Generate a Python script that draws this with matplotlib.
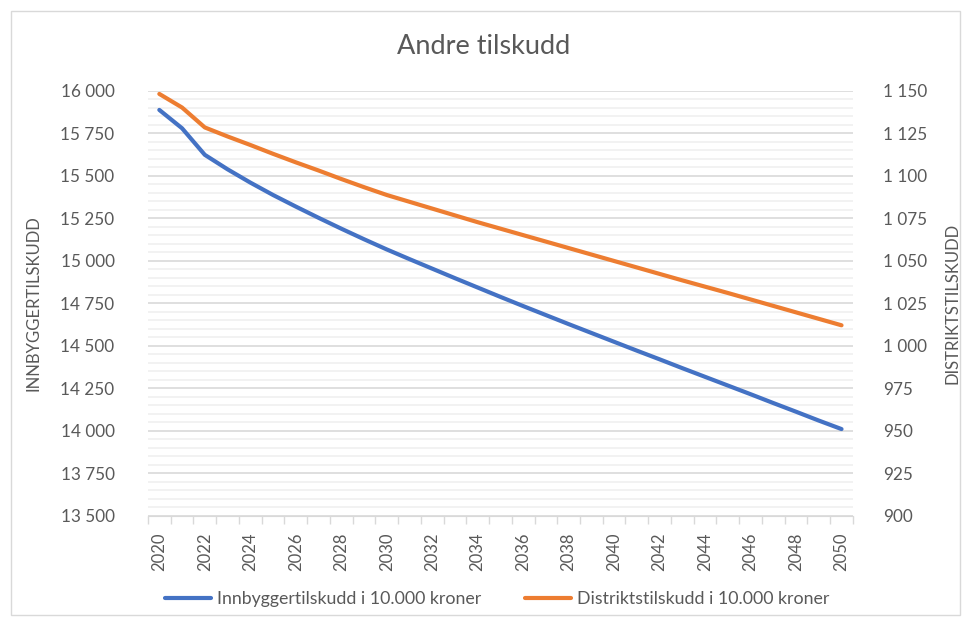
import matplotlib.pyplot as plt
from matplotlib.patches import Rectangle
from matplotlib.ticker import MultipleLocator, FuncFormatter, FixedLocator

plt.rcParams["font.family"] = ["Lato", "DejaVu Sans"]

years = list(range(2020, 2051))
innbygger = [
    15886, 15778, 15622, 15537, 15459, 15386, 15318, 15252, 15188, 15126,
    15066, 15009, 14953, 14897, 14842, 14787, 14733, 14680, 14627, 14575,
    14523, 14471, 14420, 14368, 14317, 14266, 14215, 14163, 14112, 14060,
    14010,
]
distrikt = [
    1148.0, 1140.0, 1128.3, 1123.0, 1118.0, 1112.8, 1107.8, 1103.0, 1098.0, 1093.2,
    1088.6, 1084.6, 1080.6, 1076.6, 1072.6, 1068.8, 1065.0, 1061.2, 1057.4, 1053.6,
    1049.8, 1046.0, 1042.2, 1038.4, 1034.7, 1031.0, 1027.2, 1023.4, 1019.6, 1015.8,
    1012.0,
]
label_blue = "Innbyggertilskudd i 10.000 kroner"
label_orange = "Distriktstilskudd i 10.000 kroner"

TXT = "#595959"
GRID = "#d9d9d9"
MINOR = "#f0f0f0"
BLUE = "#4472C4"
ORANGE = "#ED7D31"


def spaced(v, _pos=None):
    return f"{v:,.0f}".replace(",", " ")


fig = plt.figure(figsize=(9.67, 6.2), dpi=100)
fig.patches.append(Rectangle((0.011, 0.008), 0.982, 0.975, transform=fig.transFigure,
                             fill=False, edgecolor=GRID, linewidth=1))
ax = fig.add_axes([0.153, 0.168, 0.729, 0.686])
ax2 = ax.twinx()

x = list(range(len(years)))
l1, = ax.plot(x, innbygger, color=BLUE, lw=3, solid_capstyle="round", label=label_blue, zorder=3)
l2, = ax2.plot(x, distrikt, color=ORANGE, lw=3, solid_capstyle="round", label=label_orange, zorder=3)

ax.set_xlim(-0.5, len(years) - 0.5)
ax.set_ylim(13500, 16000)
ax2.set_ylim(900, 1150)

ax.yaxis.set_major_locator(MultipleLocator(250))
ax.yaxis.set_minor_locator(MultipleLocator(50))
ax.yaxis.set_major_formatter(FuncFormatter(spaced))
ax2.yaxis.set_major_locator(MultipleLocator(25))
ax2.yaxis.set_major_formatter(FuncFormatter(spaced))

ax.grid(axis="y", which="major", color=GRID, lw=1.2, zorder=0)
ax.grid(axis="y", which="minor", color=MINOR, lw=1.2, zorder=0)
ax.set_axisbelow(True)

# x ticks: labels every second year, tick marks at category boundaries
ax.set_xticks(x[::2])
ax.set_xticklabels([str(y) for y in years[::2]], rotation=90)
ax.xaxis.set_minor_locator(FixedLocator([i - 0.5 for i in range(len(years) + 1)]))
ax.tick_params(axis="x", which="major", length=0, pad=12, labelsize=12, labelcolor=TXT)
ax.tick_params(axis="x", which="minor", length=6, color=GRID, width=1)

ax.tick_params(axis="y", which="both", length=0, pad=24, labelsize=12.3, labelcolor=TXT)
ax2.tick_params(axis="y", which="both", length=0, pad=22, labelsize=12.3, labelcolor=TXT)

for a in (ax, ax2):
    for side in ("top", "left", "right"):
        a.spines[side].set_visible(False)
    a.spines["bottom"].set_color(GRID)
ax2.spines["bottom"].set_visible(False)

ax.set_ylabel("INNBYGGERTILSKUDD", color=TXT, fontsize=12, labelpad=14)
ax2.set_ylabel("DISTRIKTSTILSKUDD", color=TXT, fontsize=12, labelpad=12)

fig.text(0.5, 1 - 47 / 620, "Andre tilskudd", ha="center", va="center", fontsize=19.5, color=TXT)

fig.legend(handles=[l1, l2], loc="center", bbox_to_anchor=(0.514, 1 - 599 / 620), ncol=2,
           frameon=False, fontsize=12.8, labelcolor=TXT, handlelength=2.6,
           columnspacing=2.5, handletextpad=0.3)

fig.savefig("out.png", dpi=100)
